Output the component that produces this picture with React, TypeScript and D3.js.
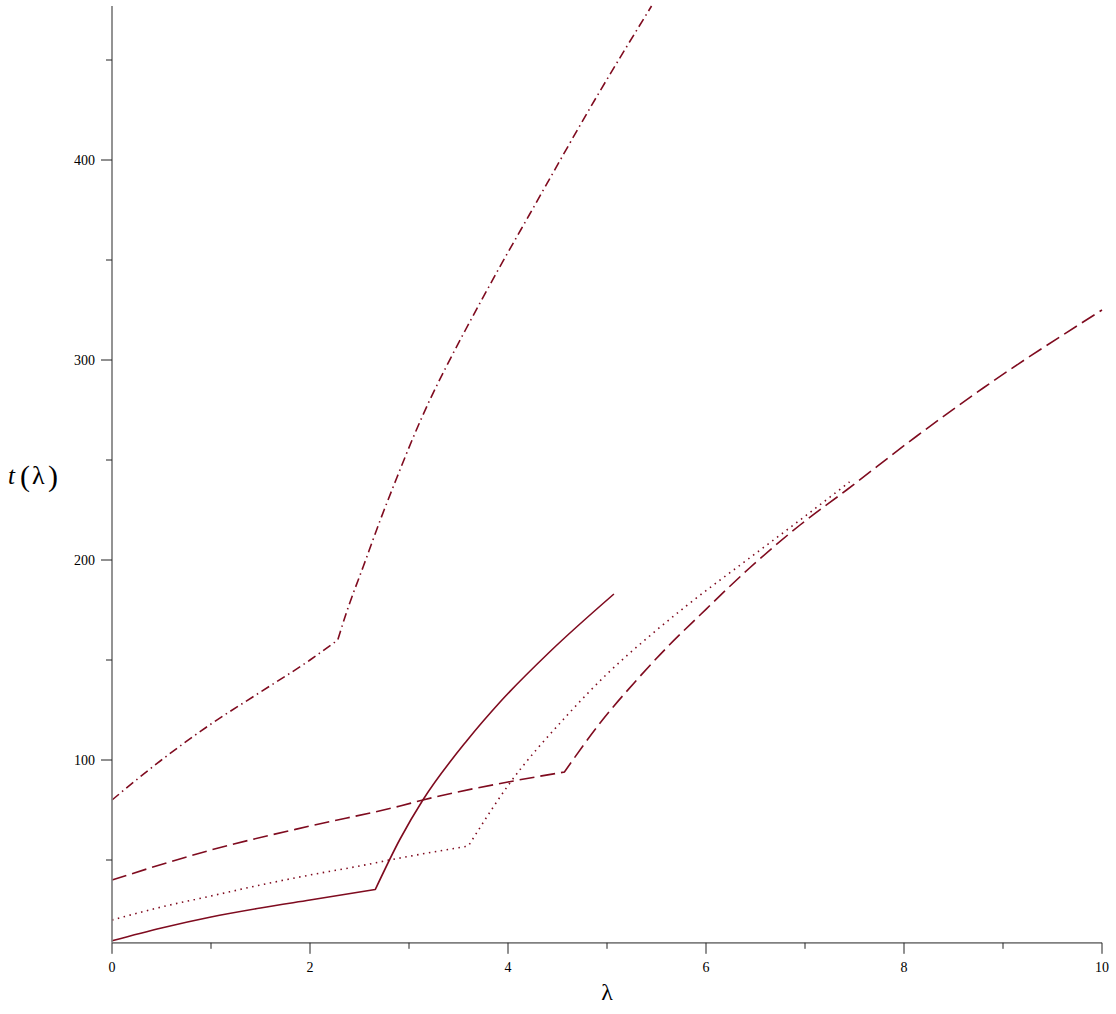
import React from 'react'
import * as d3 from 'd3'

// values (lambda, t)
const solidA = [[0, 9.6], [0.5, 16], [1, 21.5], [1.5, 26], [2, 30], [2.66, 35.3]]
const solidB = [[2.66, 35.3], [2.91, 60.5], [3.14, 80], [3.59, 110], [3.92, 129], [4.42, 154], [5.07, 183]]

const dottedA = [[0, 20], [0.5, 26.5], [1, 32], [1.5, 37.5], [2, 42.5], [2.5, 47], [2.91, 51], [3.6, 57]]
const dottedB = [[3.6, 57], [3.99, 86.5], [4.6, 122.5], [5.0, 143], [5.43, 162], [5.8, 177], [6.44, 201], [6.95, 220], [7.45, 239]]

const dashedA = [[0, 40], [1, 55], [2, 67], [2.91, 77], [3.14, 80], [4, 89], [4.57, 94]]
const dashedB = [[4.57, 94], [4.93, 118.5], [5.3, 140], [5.6, 156], [5.94, 172.5], [6.44, 196], [6.95, 217.5], [7.42, 235], [8.13, 262], [8.8, 286], [10, 325]]

const dashDotA = [[0, 80], [0.5, 100], [1, 118], [1.5, 134], [2, 150], [2.28, 160]]
const dashDotB = [[2.28, 160], [2.37, 174], [2.54, 197], [2.71, 220], [2.88, 241.5], [3.04, 261], [3.21, 280], [3.38, 297], [3.57, 315], [3.9, 345], [4.22, 373], [4.9, 432], [5.45, 477]]

const xMajor = [0, 2, 4, 6, 8, 10]
const xMinor = [1, 3, 5, 7, 9]
const yMajor = [100, 200, 300, 400]
const yMinor = [50, 150, 250, 350, 450]

const curves = [
  { name: 'solid', parts: [solidA, solidB], dash: 'none' },
  { name: 'dotted', parts: [dottedA, dottedB], dash: '1.5 4.5' },
  { name: 'dashed', parts: [dashedA, dashedB], dash: '15 6' },
  { name: 'dashdot', parts: [dashDotA, dashDotB], dash: '9 4 1.5 4' },
]

const lineColor = '#7f0b1f'
const serif = "'Liberation Serif', 'Times New Roman', serif"

export default function App() {
  const width = 1116
  const height = 1014

  const x = d3.scaleLinear().domain([0, 10]).range([112, 1102])
  const y = d3.scaleLinear().domain([8.6, 477]).range([942.8, 6])

  const line = d3
    .line<number[]>()
    .x(d => x(d[0]))
    .y(d => y(d[1]))
    .curve(d3.curveMonotoneX)

  // join the two pieces into one path so the dash pattern runs on
  const pathFor = (parts: number[][][]) =>
    parts.map((p, i) => (i === 0 ? line(p) : (line(p) || '').replace(/^M/, 'L'))).join('')

  const x0 = x(0)
  const yBase = y.range()[0]

  return (
    <div style={{ position: 'absolute', left: 0, top: 0 }}>
      <svg width={width} height={height} style={{ display: 'block', background: '#fff' }}>
        {/* curves */}
        <g fill="none" stroke={lineColor} strokeWidth={1.6}>
          {curves.map(c => (
            <path key={c.name} d={pathFor(c.parts)} strokeDasharray={c.dash} />
          ))}
        </g>

        {/* axes */}
        <line x1={x0} x2={x(10)} y1={yBase} y2={yBase} stroke="#808080" strokeWidth={1.7} />
        <line x1={x0} x2={x0} y1={y.range()[1]} y2={yBase} stroke="#808080" strokeWidth={1.7} />

        <g stroke="#222" strokeWidth={1}>
          {xMajor.map(v => (
            <line key={'xM' + v} x1={x(v)} x2={x(v)} y1={yBase} y2={yBase + 11} />
          ))}
          {xMinor.map(v => (
            <line key={'xm' + v} x1={x(v)} x2={x(v)} y1={yBase} y2={yBase + 6} />
          ))}
          {yMajor.map(v => (
            <line key={'yM' + v} x1={x0 - 11} x2={x0} y1={y(v)} y2={y(v)} />
          ))}
          {yMinor.map(v => (
            <line key={'ym' + v} x1={x0 - 6} x2={x0} y1={y(v)} y2={y(v)} />
          ))}
        </g>

        <g fontFamily={serif} fontSize={14} fill="#000">
          {xMajor.map(v => (
            <text key={'xl' + v} x={x(v)} y={972} textAnchor="middle">
              {v}
            </text>
          ))}
          {yMajor.map(v => (
            <text key={'yl' + v} x={95} y={y(v) + 5} textAnchor="end">
              {v}
            </text>
          ))}
        </g>

        {/* axis titles */}
        <text x={607} y={1000} textAnchor="middle" fontFamily={serif} fontSize={24}>
          λ
        </text>
        <g fontFamily={serif}>
          <text x={8} y={484} fontSize={25} fontStyle="italic">t</text>
          <text x={20} y={486} fontSize={30}>(</text>
          <text x={32} y={484} fontSize={26}>λ</text>
          <text x={48} y={486} fontSize={30}>)</text>
        </g>
      </svg>
    </div>
  )
}
